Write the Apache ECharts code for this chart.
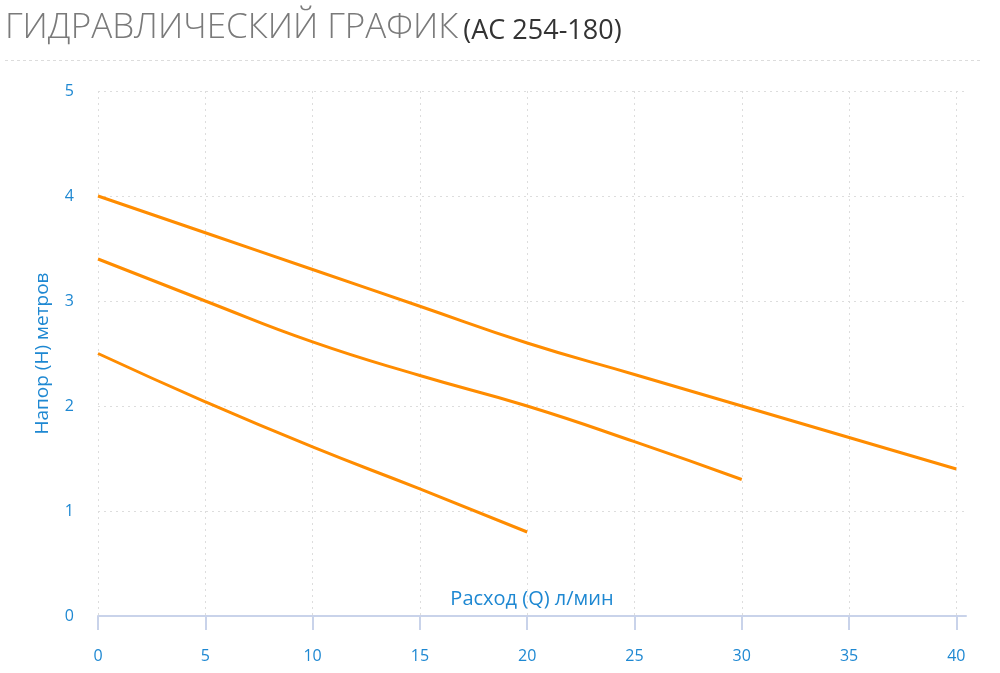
<!DOCTYPE html>
<html>
<head>
<meta charset="utf-8">
<script src="https://cdn.jsdelivr.net/npm/echarts@6/dist/echarts.min.js"></script>
<style>
html,body{margin:0;padding:0;background:#fff;}
#chart{width:1000px;height:673px;}
</style>
</head>
<body>
<div id="chart"></div>
<script>
var xTicks = [0, 5, 10, 15, 20, 25, 30, 35, 40];
var yTicks = [0, 1, 2, 3, 4, 5];
var flowTop = [0, 5, 10, 15, 20, 25, 30, 35, 40];
var headTop = [4.0, 3.65, 3.3, 2.95, 2.6, 2.3, 2.0, 1.7, 1.4];
var flowMid = [0, 5, 10, 15, 20, 25, 30];
var headMid = [3.4, 3.0, 2.61, 2.29, 2.0, 1.66, 1.3];
var flowLow = [0, 5, 10, 15, 20];
var headLow = [2.5, 2.04, 1.61, 1.21, 0.8];

var titleText = 'ГИДРАВЛИЧЕСКИЙ ГРАФИК';
var subtitleText = '(АС 254-180)';
var xName = 'Расход (Q) л/мин';
var yName = 'Напор (Н) метров';

function pairs(xs, ys) { return xs.map(function (x, i) { return [x, ys[i]]; }); }

var blue = '#1e88d2';
var orange = '#ff8c00';

var chart = echarts.init(document.getElementById('chart'));
var lineStyle = { color: orange, width: 3 };
chart.setOption({
  animation: false,
  title: {
    left: 0, top: 6,
    text: '{a|' + titleText + '} {b|' + subtitleText + '}',
    textStyle: {
      fontWeight: 'normal',
      rich: {
        a: { fontFamily: 'Open Sans', fontSize: 35, fontWeight: 300, color: '#7a7a7a' },
        b: { fontFamily: 'Open Sans', fontSize: 27, fontWeight: 'normal', color: '#333', padding: [5, 0, 0, 0] }
      }
    }
  },
  graphic: [{
    type: 'line',
    shape: { x1: 5, y1: 60.5, x2: 982, y2: 60.5 },
    style: { stroke: '#dcdcdc', lineWidth: 1, lineDash: [3, 3] }
  }],
  grid: { left: 98, right: 34, top: 91, bottom: 57, containLabel: false },
  xAxis: {
    type: 'value', min: 0, max: 40.45,
    name: xName, nameLocation: 'middle', nameGap: -27,
    nameTextStyle: { color: blue, fontSize: 20, fontFamily: 'Open Sans' },
    axisLine: { show: true, lineStyle: { color: '#c9d3ea', width: 2 } },
    axisTick: { show: true, length: 14, customValues: xTicks, lineStyle: { color: '#c9d3ea', width: 2 } },
    axisLabel: { customValues: xTicks, color: blue, fontSize: 16, margin: 32, fontFamily: 'Open Sans' },
    splitLine: { show: true, lineStyle: { color: '#dddddd', type: [2, 4], width: 1 } }
  },
  yAxis: {
    type: 'value', min: 0, max: 5, interval: 1,
    name: yName, nameLocation: 'middle', nameGap: 46,
    nameTextStyle: { color: blue, fontSize: 19, fontFamily: 'Open Sans' },
    axisLine: { show: false },
    axisTick: { show: false },
    axisLabel: { color: blue, fontSize: 16, margin: 24, fontFamily: 'Open Sans' },
    splitLine: { show: true, lineStyle: { color: '#dddddd', type: [2, 4], width: 1 } }
  },
  series: [
    { type: 'line', data: pairs(flowTop, headTop), smooth: true, symbol: 'none', lineStyle: lineStyle },
    { type: 'line', data: pairs(flowMid, headMid), smooth: true, symbol: 'none', lineStyle: lineStyle },
    { type: 'line', data: pairs(flowLow, headLow), smooth: true, symbol: 'none', lineStyle: lineStyle }
  ]
});
</script>
</body>
</html>
